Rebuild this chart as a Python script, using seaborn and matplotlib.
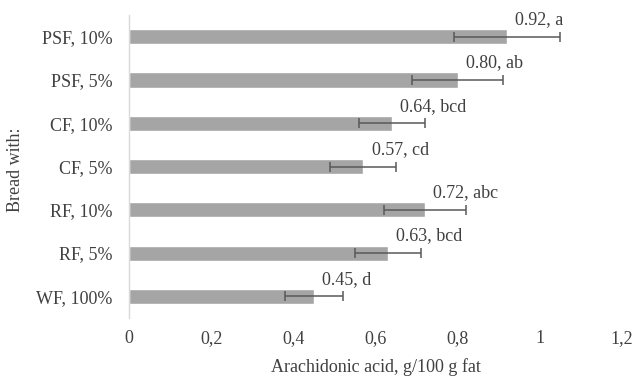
import numpy as np
import pandas as pd
import seaborn as sns
import matplotlib.pyplot as plt
from matplotlib.ticker import FuncFormatter

# data (top to bottom)
breads = ['PSF, 10%', 'PSF, 5%', 'CF, 10%', 'CF, 5%', 'RF, 10%', 'RF, 5%', 'WF, 100%']
acid = [0.92, 0.80, 0.64, 0.57, 0.72, 0.63, 0.45]
sd = [0.13, 0.11, 0.08, 0.08, 0.10, 0.08, 0.07]
letters = ['a', 'ab', 'bcd', 'cd', 'abc', 'bcd', 'd']

df = pd.DataFrame({'bread': breads, 'acid': acid, 'sd': sd, 'letter': letters})

sns.set_theme(style='white')
plt.rcParams['font.family'] = ['Liberation Serif', 'DejaVu Serif']

fig = plt.figure(figsize=(6.33, 3.79), dpi=100)
ax = fig.add_axes([0.204, 0.161, 0.7785, 0.799])

sns.barplot(data=df, x='acid', y='bread', orient='h', color='#a5a5a5',
            saturation=1, width=0.35, errorbar=None, ax=ax)

ypos = np.arange(len(breads))
ax.errorbar(df['acid'], ypos, xerr=df['sd'], fmt='none', ecolor='#595959',
            elinewidth=1.1, capsize=3.5, capthick=1.1)

for y, v, l in zip(ypos, acid, letters):
    ax.annotate('{:.2f}, {}'.format(v, l), xy=(v, y - 0.2), xytext=(6, 0),
                textcoords='offset points', ha='left', va='bottom',
                fontsize=13, color='#404040')

ax.set_xlim(0, 1.2)
ax.set_ylim(len(breads) - 0.5, -0.5)
ax.set_xticks([0, 0.2, 0.4, 0.6, 0.8, 1.0, 1.2])
ax.xaxis.set_major_formatter(FuncFormatter(lambda v, p: ('%g' % round(v, 1)).replace('.', ',')))

for s in ['top', 'right', 'bottom']:
    ax.spines[s].set_visible(False)
ax.spines['left'].set_color('#d9d9d9')
ax.spines['left'].set_linewidth(1)
ax.tick_params(axis='both', length=0, labelsize=13, colors='#404040')
ax.tick_params(axis='y', pad=12)
ax.tick_params(axis='x', pad=9)

ax.set_xlabel('Arachidonic acid, g/100 g fat', fontsize=13, color='#404040')
ax.set_ylabel('Bread with:', fontsize=13, color='#404040')
ax.xaxis.set_label_coords(0.5, -0.132)
ax.yaxis.set_label_coords(-0.213, 0.49)

fig.savefig('out.png', dpi=100)
